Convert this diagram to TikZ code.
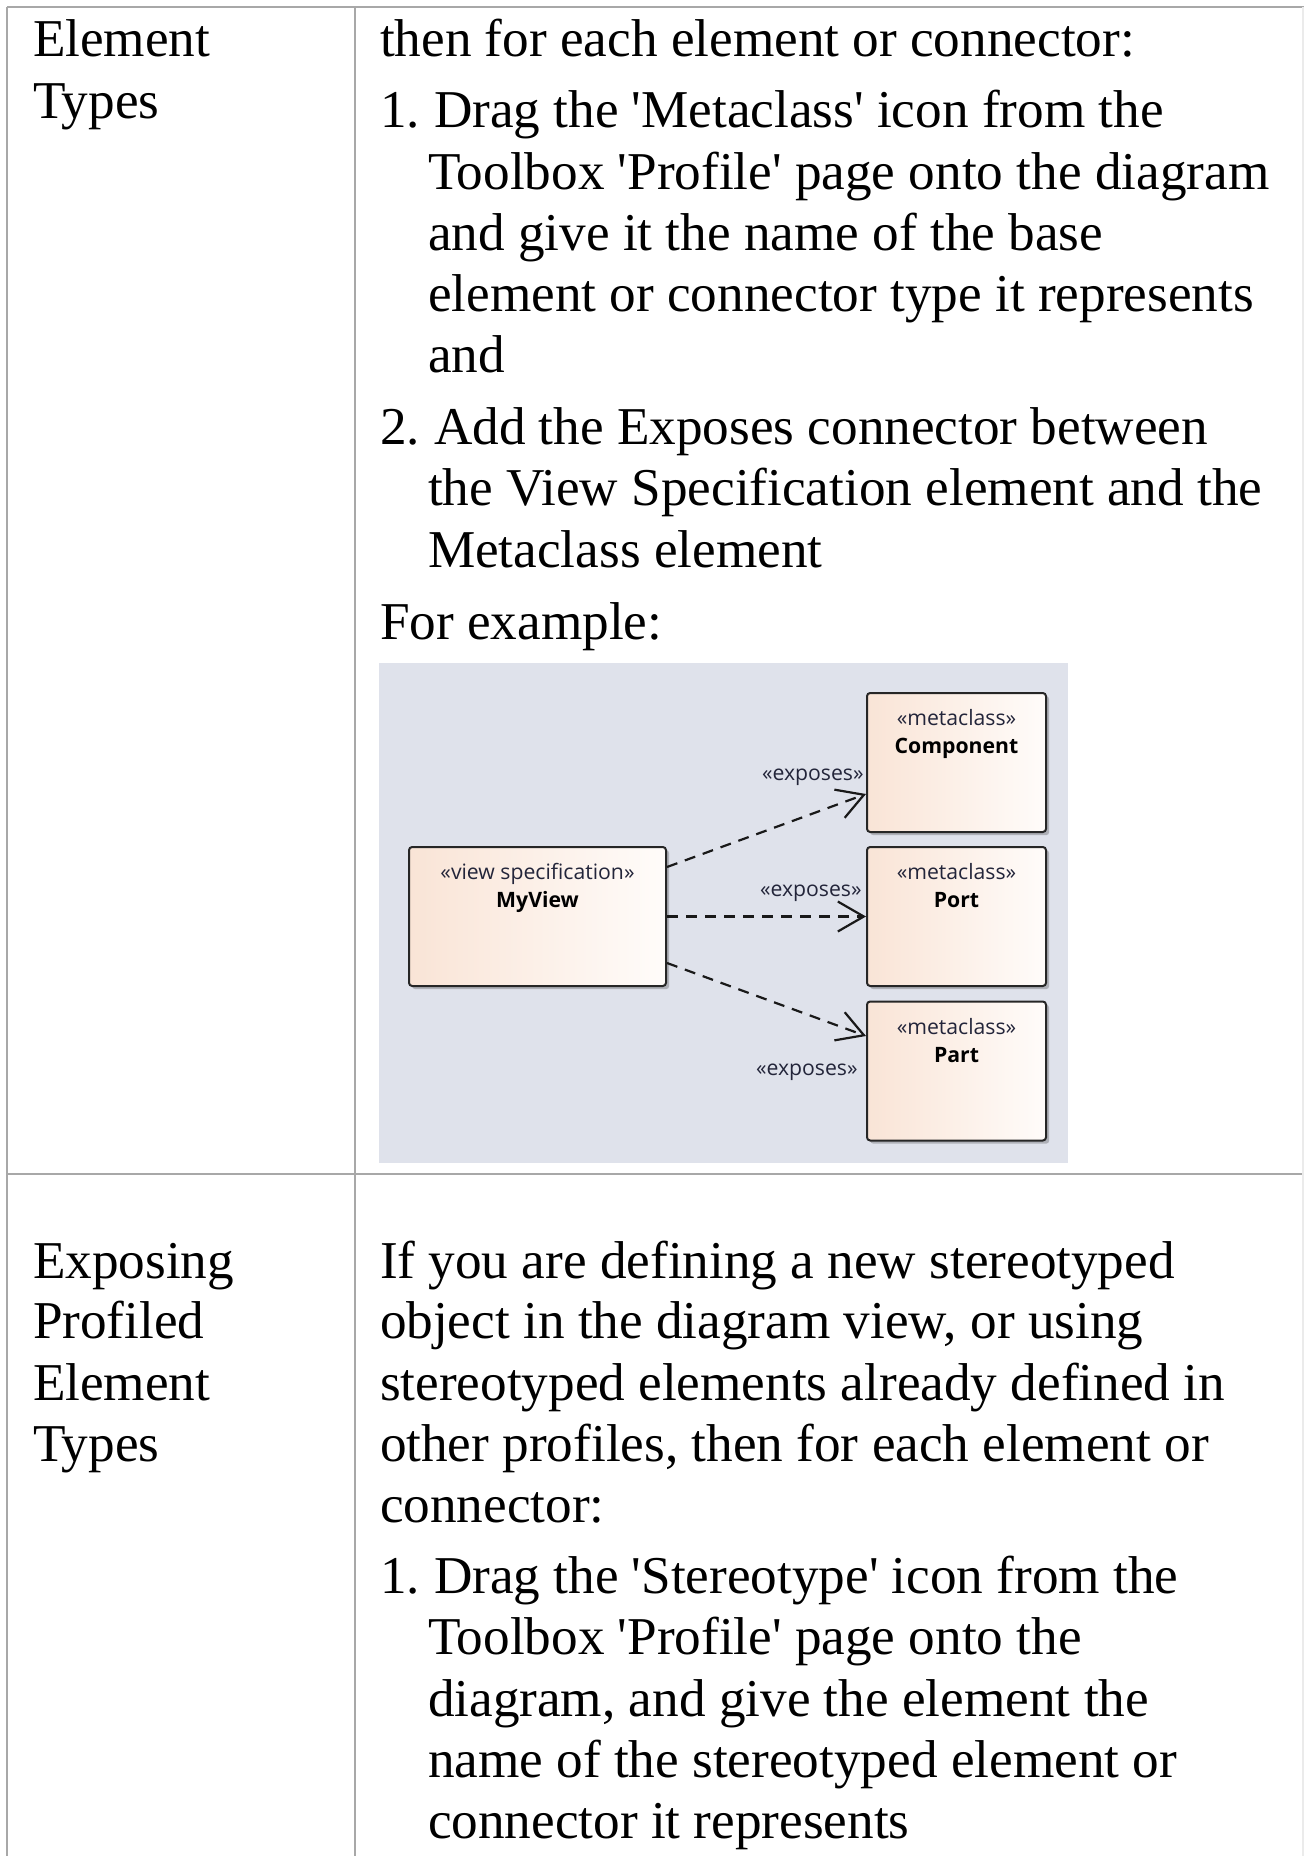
\documentclass[tikz,border=0pt]{standalone}
\usepackage{fontspec}
\newfontfamily\bodyfont{Liberation Serif}
\newfontfamily\diagfont{Open Sans}
\usetikzlibrary{arrows.meta,shadows,calc}
\definecolor{gridline}{HTML}{A8A8A8}
\definecolor{panelbg}{HTML}{DFE2EB}
\definecolor{boxL}{HTML}{F9E4D6}
\definecolor{boxR}{HTML}{FFFCFA}
\definecolor{stereo}{HTML}{23253A}
\tikzset{
  tl/.style={anchor=base west, inner sep=0pt, outer sep=0pt, font=\bodyfont\fontsize{26.6}{30}\selectfont},
  tableline/.style={draw=gridline, line width=1pt},
  umlbox/.style={draw=black!85, line width=1pt, rounded corners=1.6pt,
    left color=boxL, right color=boxR, inner sep=0pt,
    minimum width=89.5pt, minimum height=69.5pt,
    drop shadow={shadow xshift=1.6pt, shadow yshift=-1.6pt, opacity=0.22, fill=black}},
  sttext/.style={anchor=base, inner sep=0pt, font=\diagfont\fontsize{10.6}{12}\selectfont, text=stereo},
  nametext/.style={anchor=base, inner sep=0pt, font=\diagfont\bfseries\fontsize{10.6}{12}\selectfont, text=black},
  exlabel/.style={anchor=base east, inner sep=0pt, font=\diagfont\fontsize{10.6}{12}\selectfont, text=stereo},
  conn/.style={draw=black!90, line width=1.1pt, dash pattern=on 5.5pt off 4pt,
    -{Straight Barb[length=13pt,width=15pt,line width=1.1pt]}}
}
\begin{document}
\begin{tikzpicture}[x=0.5pt,y=-0.5pt]
\useasboundingbox (0,0) rectangle (1304,1856);
\fill[white] (0,0) rectangle (1304,1856);
% table grid
\draw[tableline] (7,7) -- (1304,7);
\draw[tableline] (7,7) -- (7,1856);
\draw[tableline] (355,7) -- (355,1856);
\draw[tableline] (7,1174) -- (1304,1174);
\draw[draw=black!8, line width=0.8pt] (1303,7) -- (1303,1856);
% row 1 left
\node[tl] (la1) at (33,56.7) {Element};
\node[tl] (la2) at (33,118.2) {Types};
% row 1 right
\node[tl] (r1) at (380,56.7) {then for each element or connector:};
\node[tl] (n1) at (380,127.7) {1.};
\node[tl] (r2) at (434,127.7) {Drag the 'Metaclass' icon from the};
\node[tl] (r3) at (428,189.2) {Toolbox 'Profile' page onto the diagram};
\node[tl] (r4) at (428,250.6) {and give it the name of the base};
\node[tl] (r5) at (428,311.1) {element or connector type it represents};
\node[tl] (r6) at (428,372.4) {and};
\node[tl] (n2) at (380,444.4) {2.};
\node[tl] (r7) at (434,444.4) {Add the Exposes connector between};
\node[tl] (r8) at (428,505.9) {the View Specification element and the};
\node[tl] (r9) at (428,567.4) {Metaclass element};
\node[tl] (r10) at (380,639.5) {For example:};
% diagram panel
\node[fill=panelbg, inner sep=0pt, minimum width=344.5pt, minimum height=250pt, anchor=north west] (panel) at (379,663) {};
\node[umlbox, minimum width=128.5pt] (mv) at (537.5,916.5) {};
\node[umlbox] (cmp) at (956.5,762.5) {};
\node[umlbox] (port) at (956.5,916.5) {};
\node[umlbox] (part) at (956.5,1071) {};
\node[sttext] (mvs) at (537.5,879) {«view specification»};
\node[nametext] (mvn) at (537.5,907) {MyView};
\node[sttext] (cmps) at (956.5,725) {«metaclass»};
\node[nametext] (cmpn) at (956.5,753) {Component};
\node[sttext] (ports) at (956.5,879) {«metaclass»};
\node[nametext] (portn) at (956.5,907) {Port};
\node[sttext] (parts) at (956.5,1034) {«metaclass»};
\node[nametext] (partn) at (956.5,1062) {Part};
\draw[conn] ($(mv.north east)+(0,21)$) -- ($(cmp.west)+(0,31.5)$);
\draw[conn] (mv.east) -- (port.west);
\draw[conn] ($(mv.east)+(0,46.5)$) -- ($(part.west)+(0,-35)$);
\node[exlabel] (e1) at (864,780) {«exposes»};
\node[exlabel] (e2) at (862,896) {«exposes»};
\node[exlabel] (e3) at (858,1075) {«exposes»};
% row 2 left
\node[tl] (lb1) at (33,1278) {Exposing};
\node[tl] (lb2) at (33,1338.5) {Profiled};
\node[tl] (lb3) at (33,1400) {Element};
\node[tl] (lb4) at (33,1461.5) {Types};
% row 2 right
\node[tl] (s1) at (380,1278) {If you are defining a new stereotyped};
\node[tl] (s2) at (380,1338.5) {object in the diagram view, or using};
\node[tl] (s3) at (380,1400) {stereotyped elements already defined in};
\node[tl] (s4) at (380,1461.5) {other profiles, then for each element or};
\node[tl] (s5) at (380,1522) {connector:};
\node[tl] (n3) at (380,1593) {1.};
\node[tl] (s6) at (434,1593) {Drag the 'Stereotype' icon from the};
\node[tl] (s7) at (428,1654.5) {Toolbox 'Profile' page onto the};
\node[tl] (s8) at (428,1716) {diagram, and give the element the};
\node[tl] (s9) at (428,1777) {name of the stereotyped element or};
\node[tl] (s10) at (428,1838) {connector it represents};
\end{tikzpicture}
\end{document}
